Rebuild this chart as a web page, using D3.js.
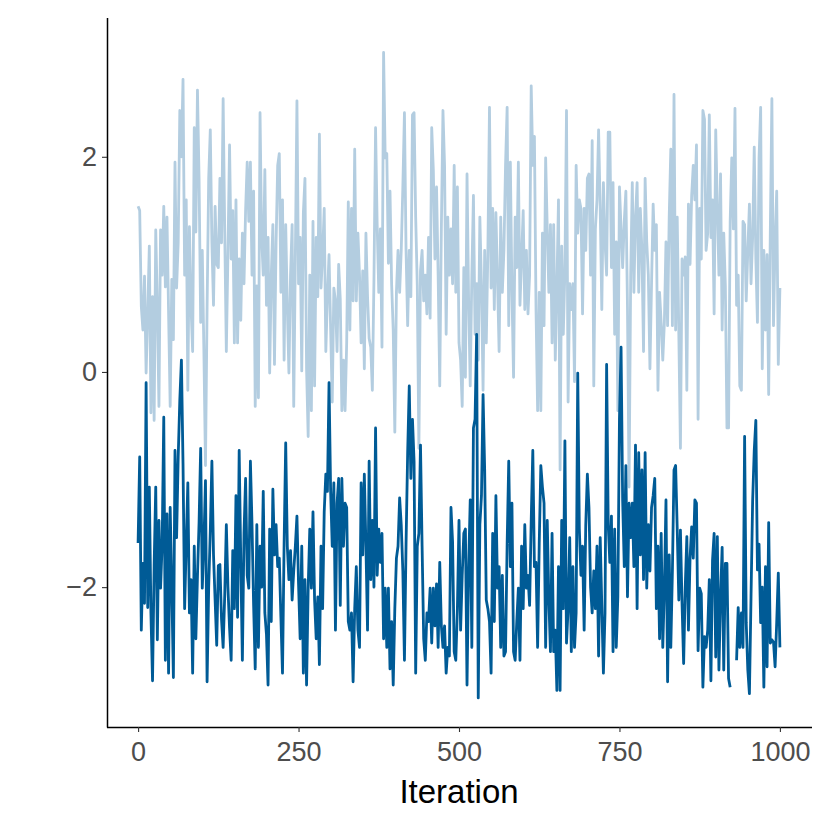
<!DOCTYPE html>
<html>
<head>
<meta charset="utf-8">
<script src="https://cdn.jsdelivr.net/npm/d3@7"></script>
<style>
  html, body { margin: 0; padding: 0; background: #ffffff; }
  text { font-family: "Liberation Sans", Arial, Helvetica, sans-serif; }
</style>
</head>
<body>
<svg id="chart" width="830" height="830"></svg>
<script>
// ---- data (one value every 2.5 iterations) ----
const iterStep = 2.5;
const chainLight = [
  1.54, 1.50, 0.61, 0.39, 0.89, -0.01, 0.55, 1.17, -0.38, 0.70,
  -0.45, 1.32, 0.60, -0.32, 1.32, 0.90, 1.54, 0.79, 1.44, 0.55,
  -0.32, 0.86, 0.30, 1.95, 0.78, 1.20, 2.43, 2.00, 2.72, 0.90,
  1.60, -0.17, 1.35, 0.60, 0.19, 2.27, 1.30, 2.62, 1.80, 0.46,
  1.13, 0.20, -0.87, 0.60, 1.80, 2.25, 1.20, 0.62, 1.54, 1.00,
  0.97, 1.80, 1.20, 2.54, 1.30, 0.19, 1.10, 2.11, 1.05, 1.50,
  0.27, 1.60, 0.27, 1.05, 0.48, 1.29, 0.82, 1.50, 1.95, 1.40,
  1.95, 0.90, 1.68, -0.32, 0.80, -0.24, 2.41, 1.25, 0.90, 1.88,
  0.62, 1.25, -0.01, 0.90, 1.37, 0.07, 1.20, 1.92, 2.03, 0.74,
  1.60, 0.11, 1.37, 0.60, -0.01, 0.90, 1.37, -0.32, 1.05, 2.52,
  0.82, 1.25, 0.01, 1.48, 1.80, 0.03, -0.60, 0.90, -0.36, 1.40,
  -0.13, 1.25, 0.70, 2.21, 0.78, 1.10, 1.52, 0.19, 0.70, 1.09,
  0.40, -0.28, 0.78, 0.66, 0.19, 1.00, 0.68, -0.36, 0.11, -0.36,
  0.27, 1.58, 0.39, 1.52, 0.66, 2.07, 0.66, 1.29, 0.90, 0.27,
  0.94, 0.03, 1.29, 0.70, 0.31, 0.23, -0.17, 0.86, 2.27, 1.37,
  0.74, 1.33, 0.23, 2.97, 1.99, 2.03, 1.01, 1.68, 0.82, 0.39,
  -0.56, 0.74, 1.13, 0.74, 1.13, 1.72, 2.41, 1.13, 0.43, 1.13,
  0.70, 2.39, 2.41, 1.44, 0.80, -0.71, 0.94, 1.13, 0.66, 0.90,
  0.54, 1.25, 0.50, 2.27, 1.88, 1.05, 1.72, 0.90, -0.13, 1.33,
  2.43, 1.92, 0.35, 1.44, 0.90, 1.33, 0.82, 1.92, 0.74, 1.72,
  0.27, 0.11, -0.32, 0.97, -0.05, 1.84, 0.66, -0.13, 0.90, 1.64,
  0.35, 0.82, 0.11, 1.44, 0.80, -0.17, 1.13, 0.27, 1.13, 2.46,
  0.78, 1.52, 0.58, 1.48, 0.86, 0.19, 1.44, 0.74, 1.13, 1.92,
  2.46, 0.43, 1.95, 0.74, -0.05, 1.44, 0.97, 1.95, 0.62, 1.05,
  1.50, 0.58, 1.13, 0.54, 0.90, 2.66, 1.92, 2.19, 0.58, -0.36,
  0.74, -0.36, 1.29, 0.43, 1.99, 1.33, 0.74, 1.37, 0.27, 1.37,
  0.11, 0.78, 1.60, -0.91, 1.17, 0.35, 0.94, 2.43, -0.28, 0.82,
  0.58, 0.82, -0.09, 1.92, 1.29, 1.60, 1.52, 0.54, 1.52, 1.13,
  1.80, 1.84, 0.90, 2.15, -0.13, 1.33, 1.60, 2.25, 1.52, 0.58,
  1.76, 1.21, 0.90, 2.23, 2.23, 0.97, 1.76, 0.35, 1.21, -0.36,
  1.72, 1.33, 0.97, 1.40, 1.68, 0.60, -1.07, 0.90, 1.76, 0.74,
  1.44, 1.76, 0.74, 1.52, 1.13, 0.19, 1.80, 1.21, 0.90, 0.03,
  0.82, 1.56, 1.13, 1.37, -0.17, 0.74, 0.46, 0.11, 0.46, 1.21,
  0.43, 1.44, 2.07, 0.43, 2.58, 0.39, 1.44, 0.35, -0.71, 1.05,
  0.90, 1.07, -0.17, 1.56, 1.00, 1.64, 1.92, 1.60, 2.11, -0.44,
  1.52, 1.05, 2.43, 2.35, 1.13, 1.29, 2.39, 1.25, 1.60, 0.54,
  2.25, 1.52, 0.90, 1.84, 0.39, 1.29, 0.80, -0.52, -0.52, 1.40,
  1.99, 1.33, 2.45, 0.62, 0.90, -0.13, -0.17, 1.40, 1.37, 0.66,
  1.13, 1.56, 0.82, 1.25, 2.09, 1.05, 0.46, 1.99, 2.46, 0.03,
  1.13, 0.39, 1.09, -0.21, 1.29, 2.54, 0.43, 1.20, 1.68, 0.07,
  0.78
];
const chainDark = [
  -1.59, -0.79, -2.40, -1.78, -2.15, -0.10, -2.19, -1.07, -2.24, -2.87,
  -1.80, -1.07, -2.49, -1.38, -2.01, -1.60, -0.42, -2.68, -1.32, -2.80,
  -1.26, -2.00, -2.84, -0.73, -1.54, -0.79, -0.26, 0.11, -0.85, -2.20,
  -1.60, -1.03, -2.24, -1.93, -2.80, -1.62, -2.48, -1.90, -1.40, -0.71,
  -2.01, -1.60, -1.01, -2.88, -2.00, -1.48, -0.83, -1.70, -2.12, -2.54,
  -1.80, -1.79, -2.30, -2.56, -2.07, -1.42, -2.00, -2.38, -2.68, -1.66,
  -2.20, -1.15, -2.28, -0.73, -1.77, -2.68, -1.50, -0.99, -1.89, -2.01,
  -0.83, -1.42, -2.17, -2.76, -1.42, -2.56, -1.62, -2.00, -1.11, -2.24,
  -2.44, -2.91, -1.46, -2.32, -1.09, -1.70, -1.42, -1.81, -1.73, -2.28,
  -2.80, -1.60, -0.66, -1.62, -1.93, -1.66, -2.12, -1.85, -1.62, -1.34,
  -1.97, -2.48, -1.62, -2.80, -1.93, -2.91, -2.01, -1.46, -2.01, -1.30,
  -2.12, -2.48, -2.09, -2.72, -1.62, -2.20, -1.30, -0.95, -1.11, -0.10,
  -1.11, -1.62, -1.03, -2.40, -1.22, -0.99, -2.17, -0.99, -1.62, -1.22,
  -1.26, -2.32, -2.40, -2.24, -2.88, -2.20, -1.81, -2.40, -2.56, -1.03,
  -1.70, -0.95, -1.62, -2.40, -0.83, -1.93, -1.38, -2.00, -0.52, -1.89,
  -1.46, -1.77, -1.50, -2.48, -2.01, -2.56, -2.01, -2.76, -2.32, -2.91,
  -2.20, -1.73, -1.62, -1.17, -1.42, -1.85, -2.68, -1.60, -0.75, -0.13,
  -0.99, -0.44, -0.83, -2.80, -1.62, -1.50, -0.68, -1.62, -2.48, -2.68,
  -2.24, -2.32, -2.01, -2.52, -2.01, -2.36, -1.97, -2.56, -1.77, -2.36,
  -2.56, -2.36, -2.80, -2.56, -2.64, -1.26, -1.58, -2.60, -2.68, -2.20,
  -1.38, -2.40, -1.89, -1.50, -1.46, -2.91, -1.81, -1.19, -2.56, -0.52,
  -0.44, 0.35, -3.03, -1.42, -1.15, -0.21, -0.91, -2.12, -2.20, -2.32,
  -2.80, -1.50, -2.32, -1.15, -2.01, -1.81, -2.56, -1.89, -2.64, -2.60,
  -1.60, -0.83, -1.81, -1.22, -2.60, -2.68, -2.32, -2.01, -2.68, -1.62,
  -2.20, -1.42, -2.01, -1.89, -2.17, -1.38, -0.73, -1.81, -1.77, -2.56,
  -1.60, -0.87, -1.07, -1.22, -2.56, -1.38, -2.12, -2.60, -1.50, -2.60,
  -2.40, -2.96, -1.81, -2.96, -1.38, -2.20, -0.64, -2.52, -2.20, -1.54,
  -2.60, -1.81, -2.56, -2.24, -0.01, -1.46, -1.89, -1.62, -2.40, -1.42,
  -0.95, -1.26, -2.00, -2.24, -1.85, -2.20, -1.62, -2.64, -1.54, -2.17,
  -2.80, -2.24, 0.07, -1.42, -1.77, -1.34, -2.60, -1.46, -2.56, -2.09,
  -0.44, 0.23, -1.20, -1.81, -0.87, -2.09, -1.22, -1.54, -1.22, -1.81,
  -0.68, -2.20, -0.75, -1.70, -0.91, -1.93, -0.75, -2.01, -1.42, -1.85,
  -1.26, -1.15, -0.99, -2.20, -1.62, -2.48, -1.50, -2.56, -2.01, -1.19,
  -2.88, -1.70, -2.56, -1.85, -0.91, -0.87, -1.46, -2.12, -1.47, -2.15,
  -2.71, -2.00, -1.53, -2.40, -1.73, -1.44, -1.73, -1.19, -1.22, -2.59,
  -2.01, -2.06, -2.93, -2.46, -2.56, -2.40, -1.93, -2.87, -1.75, -1.50,
  -2.65, -1.53, -2.77, -2.09, -1.63, -2.77, -1.78, -1.78, -2.85, -2.93,
  null, null, null, -2.68, -2.19, -2.56, -2.24, -2.56, -0.60, -2.33,
  -2.77, -2.99, -2.09, -1.20, -0.73, -0.45, -1.84, -1.60, -2.33, -2.00,
  -2.93, -1.81, -2.74, -1.40, -2.52, -2.49, -2.51, -2.74, -2.33, -1.87,
  -2.56
];
const chainColors = ["#b3cde0", "#005b96"];
const xTicks = [0, 250, 500, 750, 1000];
const yTicks = [-2, 0, 2];
const xTitle = "Iteration";

// ---- layout ----
const svg = d3.select("#chart");
svg.append("rect").attr("width", 830).attr("height", 830).attr("fill", "#ffffff");

const x = d3.scaleLinear().domain([-50, 1050]).range([106, 812]);
const y = d3.scaleLinear().domain([-3.30, 3.29]).range([727, 18]);

const line = d3.line()
  .defined(d => d.v !== null)
  .x(d => x(d.it))
  .y(d => y(d.v));

const toPoints = arr => arr.map((v, i) => ({ it: i * iterStep, v: v }));

[chainLight, chainDark].forEach((arr, k) => {
  svg.append("path")
    .datum(toPoints(arr))
    .attr("fill", "none")
    .attr("stroke", chainColors[k])
    .attr("stroke-width", 2.8)
    .attr("stroke-linejoin", "round")
    .attr("d", line);
});

// ---- axes ----
const fmt = d3.format("d");
const xAxis = d3.axisBottom(x).tickValues(xTicks).tickFormat(fmt)
  .tickSize(5).tickSizeOuter(0).tickPadding(10);
const yAxis = d3.axisLeft(y).tickValues(yTicks).tickFormat(fmt)
  .tickSize(5).tickSizeOuter(0).tickPadding(5);

const gx = svg.append("g").attr("transform", "translate(0,727)").call(xAxis);
const gy = svg.append("g").attr("transform", "translate(107,0)").call(yAxis);

[gx, gy].forEach(g => {
  g.select(".domain").attr("stroke", "#000000").attr("stroke-width", 1.5);
  g.selectAll(".tick line").attr("stroke", "#333333").attr("stroke-width", 1.1);
  g.selectAll(".tick text")
    .attr("fill", "#4d4d4d")
    .attr("font-size", 27)
    .attr("font-family", "Liberation Sans, Arial, sans-serif");
});
gx.select(".domain").attr("d", "M107,0.5H812");
gy.select(".domain").attr("d", "M0.5,18V727.5");

svg.append("text")
  .attr("x", 459)
  .attr("y", 803)
  .attr("text-anchor", "middle")
  .attr("font-size", 33)
  .attr("fill", "#000000")
  .text(xTitle);
</script>
</body>
</html>
